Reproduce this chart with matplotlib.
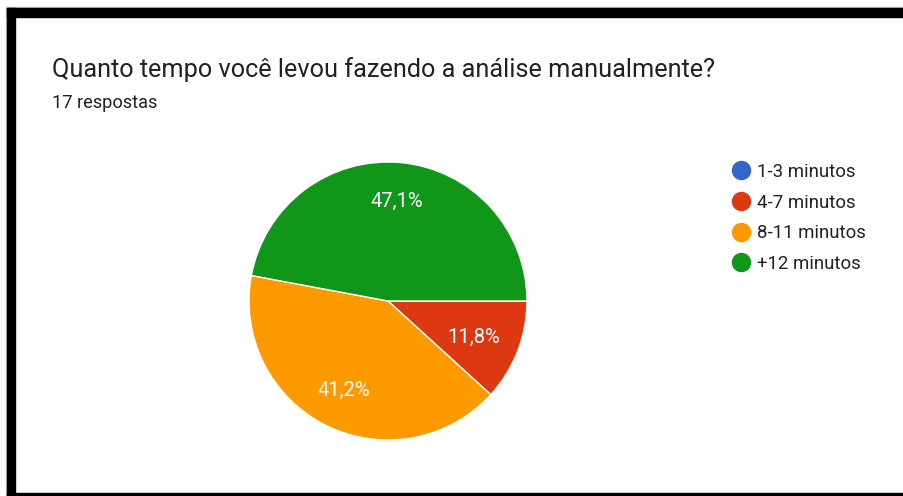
import matplotlib.pyplot as plt
from matplotlib.lines import Line2D
from matplotlib.patches import Rectangle

# dados
categorias = ['1-3 minutos', '4-7 minutos', '8-11 minutos', '+12 minutos']
respostas = [0, 2, 7, 8]
cores = ['#3366cc', '#dc3912', '#ff9900', '#109618']
titulo = 'Quanto tempo você levou fazendo a análise manualmente?'
subtitulo = '17 respostas'

plt.rcParams['font.family'] = ['Roboto', 'DejaVu Sans']

W, H = 904, 496
fig = plt.figure(figsize=(W / 100, H / 100), dpi=100)

# moldura preta do print
def px_rect(x0, y0, x1, y1, color):
    fig.patches.append(Rectangle((x0 / W, 1 - y1 / H), (x1 - x0) / W, (y1 - y0) / H,
                                 transform=fig.transFigure, color=color, zorder=0))

px_rect(6, 7, W, 8, '#c8c8c8')
px_rect(6, 7, 7, H, '#c8c8c8')
px_rect(7, 8, W, 17, 'black')
px_rect(7, 8, 15, H, 'black')
px_rect(7, 493, W, H, 'black')

fig.text(52 / W, 1 - 77 / H, titulo, fontsize=18.2, color='#202124', va='baseline')
fig.text(52 / W, 1 - 108 / H, subtitulo, fontsize=13.1, color='#202124', va='baseline')

# pizza
cx, cy, r = 388, 301, 139
ax = fig.add_axes([(cx - r) / W, (H - cy - r) / H, 2 * r / W, 2 * r / H])


def fmt(p):
    if p < 0.05:
        return ''
    return ('%.1f%%' % p).replace('.', ',')


wedges, texts, autotexts = ax.pie(respostas, colors=cores, startangle=0, counterclock=False,
                                  autopct=fmt, pctdistance=0.72,
                                  wedgeprops=dict(edgecolor='white', linewidth=1))
for t in autotexts:
    t.set_color('white')
    t.set_fontsize(14.5)
# rótulo da fatia pequena fica um pouco mais para dentro
x, y = autotexts[1].get_position()
autotexts[1].set_position((x * 0.92, y))
ax.set_xlim(-1, 1)
ax.set_ylim(-1, 1)
ax.set_aspect('equal')
ax.axis('off')

# legenda
handles = [Line2D([], [], marker='o', linestyle='none', markersize=13,
                  markerfacecolor=c, markeredgecolor=c) for c in cores]
fig.legend(handles, categorias, loc='upper left', bbox_to_anchor=(731 / W, 1 - 163 / H),
           frameon=False, fontsize=13.4, labelspacing=0.68, handletextpad=0.3,
           handlelength=1.1, borderpad=0, borderaxespad=0, labelcolor='#222222')

fig.savefig('out.png', dpi=100, facecolor='white')
